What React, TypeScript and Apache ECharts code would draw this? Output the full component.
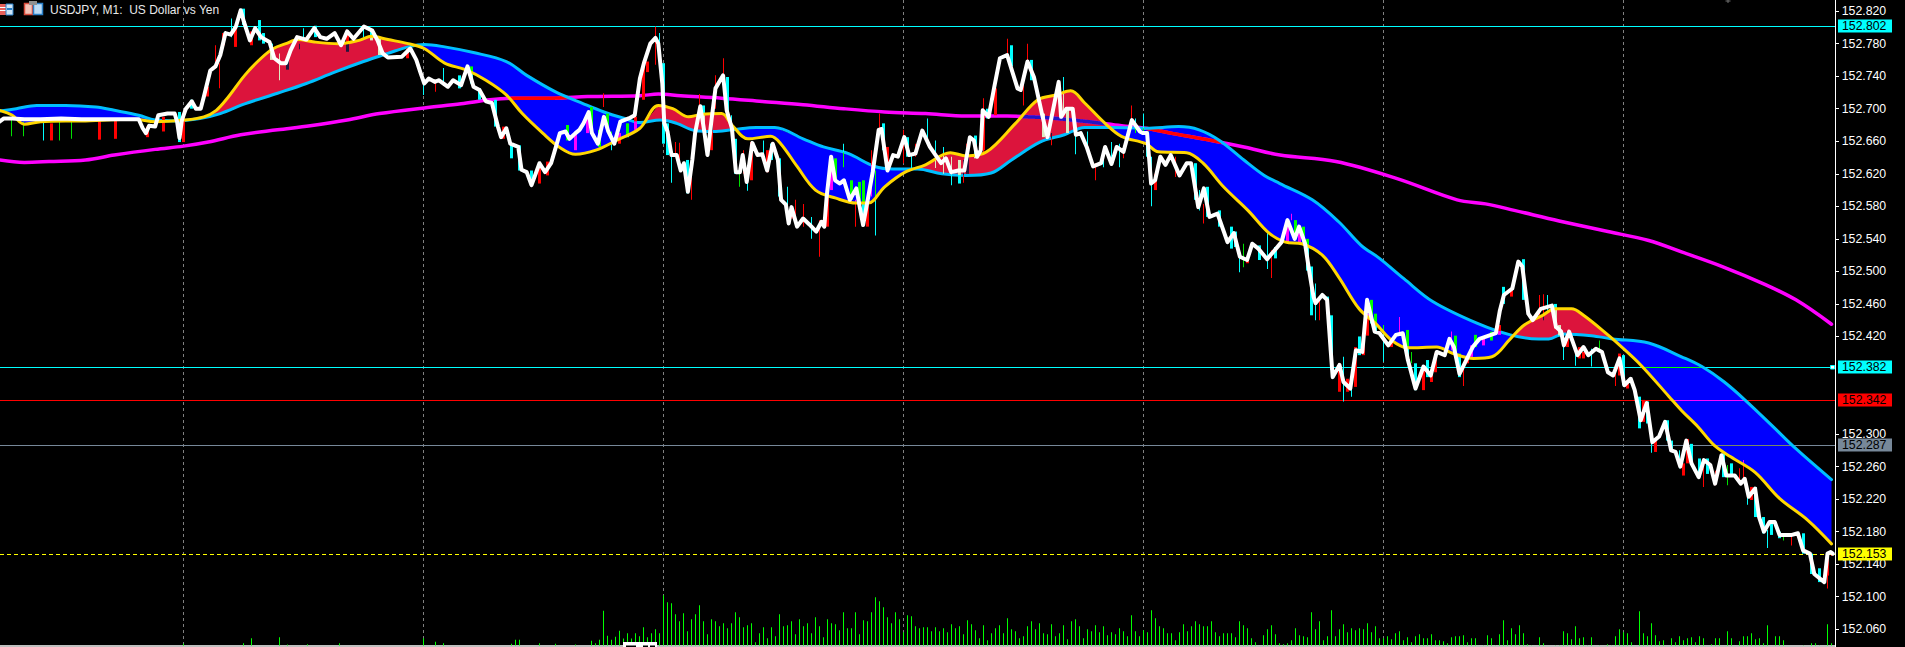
import React, { useEffect, useRef } from "react";
import * as echarts from "echarts";

// All prices below are in points above 152.000 (1 point = 0.001), bar index per minute.
const BASE = 152;
const tickPrices = [152.06, 152.1, 152.14, 152.18, 152.22, 152.26, 152.3, 152.42, 152.46, 152.5, 152.54, 152.58, 152.62, 152.66, 152.7, 152.74, 152.78, 152.82];
const levelPrices = [152.802, 152.382, 152.342, 152.287, 152.153];
const levelColors = ["#00ffff", "#00ffff", "#ff0000", "#778899", "#ffff00"];
const levelOnBlue = ["#00ff00", "#00ff00", "#ff00ff", "#778866", "#ffff00"];
const levelDashed = [false, false, false, false, true];
const gridBars = [45, 105, 165, 225, 285, 345, 405];

const closePts: number[][] = [
[-1,684],[0.1,688],[2.2,688],[5.2,687],[9.3,687],[14.4,688],[19.5,687],[24.6,687],[33.8,687],[34.8,676],[35.6,670],[36.4,679],[37.9,678],[38.7,692],[41,694],[42.8,694],[43.4,684],[44,664],[44.6,686],[45.6,700],[47.1,709],[48.1,700],[49.3,700],[50.1,715],[51.7,747],[53,752],[54.2,766],[55.5,793],[56.8,791],[58.1,801],[59.3,821],[60.1,807],[61.6,784],[62.9,799],[64.4,788],[66.5,782],[67.7,762],[69.3,756],[70.6,756],[71.8,772],[73.4,788],[75.7,785],[77.7,799],[79.2,788],[80.8,786],[82.8,793],[84.4,778],[85.9,795],[87.5,786],[90.1,801],[92.2,796],[93.5,784],[94.8,768],[96.1,763],[99.6,764],[101.7,774],[103.2,760],[104.2,745],[105.2,731],[106.3,737],[107.8,733],[108.8,735],[111.1,727],[112.4,735],[114.4,729],[116,752],[117.5,727],[119,723],[120.6,709],[122.1,707],[123.6,678],[124.4,665],[125.7,676],[126.7,657],[128.7,653],[129.5,625],[130.8,622],[132,606],[134,633],[135.4,622],[136.9,633],[138.1,653],[139.1,670],[140.5,672],[141.5,663],[143,670],[144,674],[145,682],[146.3,696],[147.1,670],[148.6,657],[150.1,690],[151.2,672],[152.7,657],[154.2,684],[156.3,688],[157.8,692],
[159.1,737],[160.1,756],[161.7,780],[163,787],[163.7,780],[164.7,731],[165.2,682],[166,672],[167,643],[168.3,643],[169.3,624],[170.1,633],[171.1,598],[172.2,637],[172.9,670],[174.2,703],[175.2,672],[176,643],[177,686],[178,725],[179.9,741],[180.8,698],[182.1,676],[183.1,622],[184.1,622],[184.8,643],[185.8,610],[187.2,658],[188.5,643],[189.7,644],[190.9,624],[192.3,657],[193.6,637],[194.4,588],[195.6,582],[196.3,559],[197,579],[198.4,555],[199.9,565],[201.4,558],[203.2,549],[204.5,561],[205.2,555],[205.8,592],[206.9,641],[207.9,612],[209.1,608],[210.1,612],[211.6,588],[213.2,602],[214.9,557],[216.2,592],[217.3,622],[218.8,674],[219.5,675],[221,624],[222.4,643],[223.6,641],[225.2,665],[226.4,643],[228,645],[229.7,673],[231.6,653],[234.4,633],[235.6,639],[236.9,622],[238.7,624],[240.2,624],[241.6,665],[242.6,661],[243.4,641],[244.3,649],[244.8,698],[246.3,690],[247.7,727],[249.1,762],[250.9,766],[253.5,725],[254.3,723],[256,758],[257.6,739],[259.6,694],[261,665],[263.8,733],[264.4,690],[265.7,700],[267.3,700],[268.1,668],[269.3,670],[270.8,653],[272.4,629],[274.4,633],[275.4,653],[277,632],[278.3,653],[280,647],[282.1,686],[284.1,672],[284.8,670],[285.9,670],[286.9,608],[287.9,612],[289.2,641],[290.5,631],[291.8,643],[294,618],[295.8,633],[296.9,633],[298.7,579],[300.1,602],[301.5,567],[303.5,571],[306,536],[307.6,547],[309.1,518],[310.9,514],[312.2,534],[313.7,528],[315.9,515],[319.5,536],
[321,563],[322.8,540],[323.9,555],[325.4,534],[326.4,501],[327.5,469],[328,461],[329.7,471],[330.9,465],[331.8,403],[332.3,370],[334,385],[335,364],[336.7,356],[338.1,403],[339.7,401],[340.9,465],[342.8,426],[344,424],[346.2,409],[348.1,422],[349.8,424],[351.1,391],[353,356],[355,383],[356.8,372],[358.3,401],[360.3,397],[361.5,417],[362.6,407],[364,374],[365.9,393],[367.3,407],[369,417],[373.1,424],[374.1,452],[375.1,471],[377.2,479],[378.7,512],[379.7,506],[381.2,448],[382.3,440],[384.3,454],[387.1,458],[388.1,432],[389.4,426],[390.1,409],[391.4,426],[393.5,397],[395,407],[396.2,397],[398.1,405],[399.6,401],[401.1,376],[402.4,372],[404,393],[405.2,360],[406.8,368],[407.8,354],[409.3,317],[410.8,338],[412.2,290],[413.9,297],[415.4,315],[416.9,280],[418,278],[419.2,260],[420.7,292],[422,264],[423.8,247],[425.1,268],[426.7,262],[427.9,239],[429.5,274],[430.7,249],[432.8,249],[434.3,239],[435.3,245],[436.3,223],[437.9,233],[438.9,198],[440.1,180],[441.5,192],[442.8,192],[444,176],[447.1,176],[448.6,178],[449.9,157],[451.6,153],[452.7,128],[453.7,124],[455.2,118],[456,153],[456.8,155],[457.3,153],
];

const fastPts: number[][] = [
[-1,698],[2.2,692],[5.2,681],[9.3,684],[19.5,685],[32.8,687],[37.9,684],[45,686],[50.1,690],[53.2,698],[56.3,715],[60.3,741],[64.4,762],[67.5,774],[70.6,780],[73.6,785],[77.7,782],[83.8,780],[88.9,784],[92,789],[96.1,785],[101.2,780],[105.2,774],[110.3,756],[115.5,748],[120.6,735],[125.7,717],[129.7,694],[134.8,670],[138.9,653],[143,644],[148.1,649],[153.2,661],[159.1,676],[163.7,704],[167.3,700],[171.3,690],[174.4,693],[179.5,694],[182.1,680],[186.1,663],[191.8,666],[194.3,657],[198.4,629],[203,600],[208.1,590],[213.2,584],[216.2,584],[220.3,604],[225.4,622],[230.5,631],[236.7,646],[240.7,642],[245.8,647],[253,682],[258.6,711],[263.2,717],[266.8,722],[270.3,707],[275.4,682],[279.5,666],[285.6,657],[288.7,647],[295.8,646],[299.9,633],[305,604],[311.1,575],[316.4,547],[320.5,536],[324.6,534],[329.7,520],[333.8,493],[338.9,454],[343,436],[347.1,415],[351.1,406],[358.3,407],[362.4,399],[367.5,393],[372.1,395],[376.7,417],[380.2,434],[384.8,446],[387.9,454],[392,454],[395,446],[401.1,422],[403.2,413],[409.3,385],[416.4,346],[419.5,329],[423.6,309],[427.7,286],[431.8,272],[437.9,253],[444,221],[451.1,194],[457,165],
];

const slowPts: number[][] = [
[-1,697],[3.2,700],[8.3,704],[15.5,704],[23.1,702],[27.7,698],[33.8,692],[37.9,686],[43,685],[49.1,688],[54.2,694],[60.3,706],[68.5,719],[75.7,731],[82.8,745],[90,758],[96.1,768],[101.2,776],[105.2,779],[110.3,776],[117.5,769],[125.7,758],[130.8,741],[137.9,721],[145,706],[150.1,696],[155.3,688],[159.1,683],[164.2,686],[168.3,682],[172.9,673],[177.5,672],[182.1,674],[188.2,677],[192.8,677],[199.9,663],[205,653],[211.1,645],[217.8,629],[222.4,626],[228.5,626],[234.6,620],[240.7,618],[246.9,621],[252,637],[259.1,659],[265.2,668],[270.3,677],[277.5,677],[285.6,676],[293.8,678],[298.9,674],[304,661],[310.1,637],[315.2,618],[319.1,608],[327.2,588],[333.8,561],[339.4,532],[344,516],[350.1,491],[357.3,463],[368.5,436],[376.7,422],[383.8,417],[386.3,417],[389.9,423],[397,421],[402.2,417],[411.3,412],[419.5,395],[424.6,383],[430.2,364],[435.8,340],[442,311],[448.1,282],[457,244],
];

const longPts: number[][] = [
[-1,637],[5.2,634],[11.4,635],[20.5,637],[27.7,643],[37.9,650],[45,654],[51.2,659],[59.3,668],[68.5,674],[76.7,679],[85.9,686],[94,694],[105.2,701],[114.4,706],[121.6,711],[127.7,713],[137.9,713],[146,715],[159.1,716],[163.7,718],[169.3,716],[179.5,713],[189.7,709],[199.9,705],[210.1,700],[220.3,696],[230.5,694],[240.7,691],[250.9,691],[261.1,689],[271.3,684],[279.5,679],[285.6,676],[291.8,670],[302,661],[310.1,653],[319.1,643],[333.1,635],[348.4,614],[363.4,588],[370.5,583],[377.7,575],[388.9,562],[401.1,549],[411.3,538],[419.5,524],[429.7,506],[439.9,485],[448.1,465],[457,435],
];

// bar, low, high, thick body (1) or thin wick (0), direction: 0 falling, 1 rising, 2 green
const candleRows: number[][] = [
[2,666,686,0,2],[5,666,684,0,2],[10,661,687,0,0],[12,661,682,1,1],[14,661,684,0,2],[17,663,684,0,2],[24,662,685,1,1],[28,663,685,1,1],[36,665,678,1,1],[40,672,690,1,1],[44,659,696,1,0],[45,659,692,1,1],[47,700,711,1,0],[51,715,727,1,1],[53,752,778,0,1],[54,725,756,0,1],[55,778,793,1,1],[57,788,811,0,0],[58,776,801,1,1],[60,803,823,1,0],[62,778,795,1,1],[64,784,809,1,0],[65,780,793,1,0],[67,760,780,1,0],[69,735,768,0,0],[71,748,764,1,1],[74,773,780,0,1],[75,784,799,0,0],[78,788,802,1,0],[86,770,793,1,1],[90,788,803,0,0],[92,784,797,1,0],[94,766,786,1,0],[101,762,774,1,1],[105,717,739,0,0],[108,721,735,0,1],[110,731,750,0,0],[114,725,741,1,0],[117,731,752,1,0],[119,711,725,1,0],[123,678,711,1,0],[125,663,678,1,1],[127,639,657,1,0],[129,624,655,1,0],[132,606,624,1,0],[134,608,629,1,1],[136,618,635,1,1],[141,661,680,1,0],[143,649,670,1,1],[146,670,694,1,1],[147,674,702,1,0],[149,653,674,1,0],[150,702,719,0,1],[151,672,694,1,0],[152,649,672,0,0],[154,657,670,1,1],[156,665,682,1,0],[158,674,690,1,1],
[160,711,752,1,1],[161,745,758,1,1],[163,754,801,0,1],[164,776,793,0,0],[165,657,756,1,0],[166,643,682,1,0],[167,609,645,0,0],[168,641,659,0,1],[169,624,658,0,1],[171,596,637,1,0],[172,588,637,0,1],[174,692,718,0,1],[175,672,704,1,0],[177,649,694,1,1],[178,700,741,0,1],[180,739,762,0,1],[181,694,739,1,0],[182,670,692,0,0],[183,620,663,1,0],[184,604,620,0,2],[185,620,649,0,1],[186,599,628,0,0],[187,612,659,1,1],[190,643,661,0,0],[191,622,649,1,1],[192,637,657,1,0],[194,592,639,1,0],[196,567,604,0,0],[197,565,579,1,1],[198,567,588,0,1],[200,555,583,0,1],[202,540,567,0,0],[204,518,563,0,1],[206,555,592,1,1],[207,600,641,1,1],[208,612,639,1,0],[210,628,657,0,0],[212,588,612,1,0],[213,555,588,0,1],[214,583,610,1,0],[215,557,612,1,0],[216,555,583,1,1],[217,592,649,0,1],[218,544,624,0,0],[219,670,694,0,1],[220,649,682,1,0],[221,624,653,1,1],[225,633,674,0,1],[226,641,665,1,0],[227,626,645,0,0],[228,641,657,0,1],[231,661,688,0,0],[233,627,661,0,0],[235,620,653,0,0],[237,606,641,0,0],[239,608,637,1,0],[240,609,637,0,1],[241,620,657,1,1],[243,639,667,1,0],[245,645,713,0,1],[245,649,692,1,1],[246,688,700,1,0],[248,692,725,1,1],[251,760,786,0,1],[252,752,778,1,0],[255,704,735,0,1],[256,756,780,0,1],[257,735,760,1,0],[260,665,694,1,0],[262,655,670,0,1],[265,698,739,0,0],[266,670,702,1,0],[268,644,671,0,0],[271,645,672,0,0],[273,612,633,0,1],[275,628,649,0,0],[277,633,659,0,0],[279,628,657,0,0],[280,639,653,0,1],[282,682,704,0,1],[283,670,688,0,0],[285,670,694,0,0],[286,641,672,1,0],[287,580,641,0,0],[288,600,620,1,1],[293,616,641,0,1],[298,588,633,1,0],[299,575,600,0,0],[300,559,583,0,1],[301,567,604,1,0],[304,555,575,1,0],[307,528,555,1,0],[308,530,549,1,0],[309,499,518,0,0],[310,505,534,0,2],[311,510,516,1,1],[314,514,532,1,0],[316,503,547,0,0],[317,492,526,0,1],[318,516,530,1,0],
[321,536,563,1,1],[322,563,571,0,1],[323,540,563,1,0],[324,536,551,1,1],[325,536,555,1,0],[326,501,540,1,0],[327,446,506,1,0],[328,440,485,0,0],[329,440,465,0,1],[331,448,469,1,0],[332,379,446,1,0],[334,352,387,1,1],[335,340,395,0,0],[336,352,368,1,1],[337,346,364,0,0],[338,358,407,1,1],[339,397,420,1,0],[340,397,420,1,1],[341,421,448,1,1],[342,436,465,1,0],[343,424,448,1,0],[345,389,434,0,0],[347,407,415,1,1],[349,424,444,0,1],[351,395,428,1,0],[352,387,401,0,2],[353,354,387,1,0],[355,354,379,1,1],[356,370,391,1,0],[357,364,379,1,1],[358,376,399,1,1],[362,403,426,0,1],[363,395,421,1,0],[364,370,399,1,0],[365,359,383,0,1],[366,387,395,1,1],[367,395,409,1,1],[368,407,422,1,0],[370,409,420,1,1],[372,415,426,1,0],[374,422,434,1,1],[375,460,481,1,0],[377,469,477,1,1],[380,465,515,1,0],[384,446,471,0,1],[385,440,472,0,1],[386,452,471,0,0],[388,430,460,1,0],[389,420,434,1,0],[390,391,424,0,0],[391,407,426,1,1],[393,384,407,0,0],[394,393,407,1,1],[395,393,401,1,1],[397,383,405,0,0],[399,401,415,0,2],[403,359,380,0,1],[404,372,399,1,1],[405,360,397,1,0],[406,356,366,1,1],[409,307,346,1,0],[410,315,342,1,1],[411,313,340,1,0],[412,277,292,0,0],[413,278,292,1,1],[416,292,317,1,0],[417,280,292,1,0],[419,258,280,0,0],[420,249,264,1,1],[421,264,294,1,1],[422,264,288,1,0],[424,247,270,1,0],[425,235,264,0,1],[426,251,270,1,0],[428,237,255,0,1],[430,247,276,1,0],[431,237,262,0,2],[432,249,264,1,0],[434,239,258,0,1],[435,243,268,0,1],[436,213,239,0,0],[437,219,235,1,1],[438,198,235,1,0],[440,178,198,1,0],[441,160,182,0,0],[442,176,194,1,0],[444,172,180,1,0],[445,169,175,0,2],[447,163,178,0,1],[450,153,178,1,0],[452,128,153,1,0],[454,118,135,1,0],[456,110,153,0,1],[456,126,153,1,1],[457,150,156,0,1],
];

const volumeEarly: number[][] = [[45,5],[60,7],[62,22],[69,25],[71,3],[76,4],[84,7],[105,22],[108,11],[110,7],[127,5],[128,17],[129,17],[134,7],[138,5],[143,3],[147,14],[148,7],[149,17],[150,104],[151,29],[152,17],[153,26],[154,44]];
const volumeA = [21,37,21,37,28,55,25,37,49,37,151,130,127,94,73,97,43,79,94,121,73,34,79,73,58,67,52,67,100,85,55,61,67,10,37,55,22,55,28,94,58,61,73,34,79,58,67,37,85,58,25,79,67,64,46,100,52,52,100,34,76,73,100,145,133,115,85,67,100,79,40,91,88,58,52,55,55,43,55,43,52,40,64,52,58,34,76,64,46,22,61,16,37,52,61,37,82,49,43,22];
const volumeB = [28,58,73,49,67,37,34,64,28,37,61,19,73,79,58,22,49,43,61,40,58,31,40,34,52,43,28,91,43,28,46,40,106,82,58,52,37,37,16,40,64,43,58,73,64,58,58,73,40,28,37,37,37,25,73,61,52,22,10,0,31,49,61,34,7,4,7,16,52,31,28,25,100,49,73,16,28,106,28,49,64,40,52,46,52,49,67,40,58,22,22,28,19,37,43,16,25,10,28,34];
const volumeC = [22,22,34,16,16,13,7,25,28,28,31,10,22,22,0,1,31,22,1,34,76,16,52,34,61,37,4,1,0,25,7,0,0,1,1,43,37,19,58,22,25,1,25,0,1,0,4,1,28,49,40,37,10,0,103,37,28,67,31,13,16,0,22,10,28,16,22,25,10,28,22,0,4,22,22,0,43,22,0,13,28,28,37,19,22,7,61,0,28,28,16,0,0,0,0,1,0,7,7,1,0,64,7];

const pr = (p: number) => BASE + p / 1000;
const PX_PER_PRICE = 813.4;
const Y_MAX = 152.82 + 11.1 / PX_PER_PRICE;
const Y_MIN = 152.82 - (647 - 11.1) / PX_PER_PRICE;
const X_MIN = -0.875;
const X_MAX = 457.875;
const AXIS_X = 1835;

const C_BLUE = "#0000ff";
const C_RED = "#dc143c";

function interp(pts: number[][], x: number) {
  if (x <= pts[0][0]) return pts[0][1];
  for (let k = 1; k < pts.length; k++) {
    if (x <= pts[k][0]) {
      const [a, b] = [pts[k - 1], pts[k]];
      return a[1] + ((b[1] - a[1]) * (x - a[0])) / (b[0] - a[0]);
    }
  }
  return pts[pts.length - 1][1];
}

function cloudRegions() {
  const xs = Array.from(new Set([...fastPts.map((p) => p[0]), ...slowPts.map((p) => p[0])])).sort((a, b) => a - b);
  const regions: { up: boolean; top: number[][]; bot: number[][] }[] = [];
  let cur: any = null;
  const push = (x: number, f: number, s: number, up: boolean) => {
    if (!cur || cur.up !== up) {
      cur = { up, top: [], bot: [] };
      regions.push(cur);
    }
    cur.top.push([x, f]);
    cur.bot.push([x, s]);
  };
  for (let k = 0; k < xs.length; k++) {
    const x = xs[k];
    const f = interp(fastPts, x);
    const s = interp(slowPts, x);
    if (k > 0) {
      const px = xs[k - 1];
      const pf = interp(fastPts, px);
      const ps = interp(slowPts, px);
      if ((pf - ps) * (f - s) < 0) {
        const t = (ps - pf) / (f - pf - (s - ps));
        const cx = px + t * (x - px);
        const cy = pf + t * (f - pf);
        push(cx, cy, cy, pf > ps);
        cur = null;
        push(cx, cy, cy, f > s);
      }
    }
    push(x, f, s, f > s);
  }
  return regions;
}

function bandAt(x: number) {
  const f = interp(fastPts, x);
  const s = interp(slowPts, x);
  return { lo: Math.min(f, s), hi: Math.max(f, s), up: f > s };
}

function xorRuns(pts: number[][], onBlue: string, onRed: string, width: number, crisp: boolean) {
  const runs: { color: string; width: number; crisp: boolean; pts: number[][] }[] = [];
  let cur: any = null;
  const end = pts[pts.length - 1][0];
  for (let x = pts[0][0]; x <= end; x += 0.25) {
    const v = interp(pts, x);
    const b = bandAt(x);
    const inside = v >= b.lo && v <= b.hi;
    const color = inside ? (b.up ? onRed : onBlue) : null;
    if (!color) {
      cur = null;
      continue;
    }
    if (!cur || cur.color !== color) {
      cur = { color, width, crisp, pts: [] };
      runs.push(cur);
    }
    cur.pts.push([x, v]);
  }
  return runs;
}

const candleBase = ["#00ffff", "#ff0000", "#00e000"];
const candleOnBlue = ["#00ff00", "#ff00ff", "#00ff00"];
const candleOnRed = ["#dcebc3", "#23143c", "#dcebc3"];

function volumeData() {
  const out: number[][] = [...volumeEarly];
  volumeA.forEach((v, k) => out.push([155 + k, v]));
  volumeB.forEach((v, k) => out.push([255 + k, v]));
  volumeC.forEach((v, k) => out.push([355 + k, v]));
  return out;
}

function buildOption() {
  const regions = cloudRegions();
  const levelPts = levelPrices.map((p) => [[X_MIN, (p - BASE) * 1000], [X_MAX, (p - BASE) * 1000]]);
  const runs = [
    ...xorRuns(longPts, "#ff0000", "#2314c3", 3.5, false),
    ...levelPts.flatMap((pts, k) => (levelDashed[k] ? [] : xorRuns(pts, levelOnBlue[k], levelColors[k], 1, true))),
  ];
  const lineSeries = (name: string, pts: number[][], color: string, width: number, z: number, smooth: number) => ({
    name,
    type: "line",
    data: pts.map((p) => [p[0], pr(p[1])]),
    showSymbol: false,
    symbol: "none",
    silent: true,
    z,
    smooth,
    lineStyle: { color, width, join: "round", cap: "round" },
  });
  return {
    animation: false,
    backgroundColor: "#000000",
    grid: [
      { left: 0, top: 0, width: AXIS_X, height: 647 },
      { left: 0, top: 545.5, width: AXIS_X, height: 100 },
    ],
    xAxis: [
      { type: "value", gridIndex: 0, min: X_MIN, max: X_MAX, show: false },
      {
        type: "value",
        gridIndex: 1,
        min: X_MIN,
        max: X_MAX,
        axisLine: { show: true, onZero: false, lineStyle: { color: "#ffffff", width: 1.5 } },
        axisTick: { show: false },
        axisLabel: { show: false },
        splitLine: { show: false },
      },
    ],
    yAxis: [
      {
        type: "value",
        gridIndex: 0,
        position: "right",
        min: Y_MIN,
        max: Y_MAX,
        splitLine: { show: false },
        axisLine: { show: true, onZero: false, lineStyle: { color: "#ffffff", width: 1 } },
        axisTick: { show: true, length: 4, customValues: tickPrices, lineStyle: { color: "#ffffff" } },
        axisLabel: {
          show: true,
          customValues: tickPrices,
          margin: 6.7,
          color: "#ffffff",
          fontFamily: "Liberation Sans",
          fontSize: 12.3,
          formatter: (v: number) => v.toFixed(3),
        },
      },
      { type: "value", gridIndex: 1, min: 0, max: 300, show: false },
    ],
    series: [
      {
        name: "grid",
        type: "custom",
        z: 1,
        silent: true,
        data: gridBars.map((b) => [b]),
        encode: { x: 0 },
        renderItem: (_p: any, api: any) => {
          const x = api.coord([api.value(0), Y_MAX])[0];
          return {
            type: "line",
            shape: { x1: x, y1: 0, x2: x, y2: 646 },
            style: { stroke: "#808080", lineWidth: 1, lineDash: [3, 3] },
          };
        },
      },
      {
        name: "volume",
        type: "custom",
        xAxisIndex: 1,
        yAxisIndex: 1,
        silent: true,
        z: 2,
        data: volumeData(),
        encode: { x: 0, y: 1 },
        renderItem: (_p: any, api: any) => {
          const top = api.coord([api.value(0), api.value(1)]);
          const bottom = api.coord([api.value(0), 0]);
          return {
            type: "rect",
            shape: { x: Math.round(top[0] - 0.5), y: top[1], width: 1, height: bottom[1] - top[1] },
            style: { fill: "#00ff00" },
          };
        },
      },
      {
        name: "cloud",
        type: "custom",
        z: 3,
        silent: true,
        data: regions.map((_r, k) => [k]),
        encode: { x: 0 },
        clip: true,
        renderItem: (_p: any, api: any) => {
          const r = regions[api.value(0)];
          const pts = [...r.top, ...[...r.bot].reverse()].map((p) => api.coord([p[0], pr(p[1])]));
          return { type: "polygon", shape: { points: pts }, style: { fill: r.up ? C_RED : C_BLUE } };
        },
      },
      lineSeries("long", longPts, "#ff00ff", 3.5, 4, 0.35),
      {
        name: "levels",
        type: "custom",
        z: 5,
        silent: true,
        data: levelPrices.map((p, k) => [k, p]),
        encode: { y: 1 },
        renderItem: (_p: any, api: any) => {
          const k = api.value(0);
          const p = api.value(1);
          const y = Math.round(api.coord([0, p])[1]) + 0.5;
          return {
            type: "group",
            children: [
              {
                type: "line",
                shape: { x1: 0, y1: y, x2: AXIS_X, y2: y },
                style: { stroke: levelColors[k], lineWidth: 1, lineDash: levelDashed[k] ? [4, 3] : undefined },
              },
              { type: "rect", shape: { x: 1838, y: y - 7, width: 54, height: 13 }, style: { fill: levelColors[k] }, z2: 10 },
              {
                type: "text",
                x: 1842,
                y: y - 0.5,
                z2: 11,
                style: {
                  text: p.toFixed(3),
                  fill: "#000000",
                  fontFamily: "Liberation Sans",
                  fontSize: 12.3,
                  textVerticalAlign: "middle",
                },
              },
            ],
          };
        },
      },
      {
        name: "xor",
        type: "custom",
        z: 6,
        silent: true,
        data: runs.map((_r, k) => [k]),
        encode: { x: 0 },
        renderItem: (_p: any, api: any) => {
          const r = runs[api.value(0)];
          const pts = r.pts.map((p) => {
            const c = api.coord([p[0], pr(p[1])]);
            return r.crisp ? [c[0], Math.round(c[1]) + 0.5] : c;
          });
          return { type: "polyline", shape: { points: pts }, style: { stroke: r.color, lineWidth: r.width, fill: "none" } };
        },
      },
      lineSeries("slow", slowPts, "#00bfff", 3, 7, 0.35),
      {
        name: "candles",
        type: "custom",
        z: 8,
        silent: true,
        data: candleRows,
        encode: { x: 0, y: [1, 2] },
        renderItem: (_p: any, api: any) => {
          const i = api.value(0);
          const lo = api.value(1);
          const hi = api.value(2);
          const thick = api.value(3);
          const dir = api.value(4);
          const b = bandAt(i);
          const cuts = [lo, Math.min(hi, Math.max(lo, b.lo)), Math.min(hi, Math.max(lo, b.hi)), hi];
          const children: any[] = [];
          const cx = api.coord([i, pr(lo)])[0];
          const w = thick ? 3 : 1;
          for (let k = 0; k < 3; k++) {
            if (cuts[k + 1] <= cuts[k]) continue;
            const color = k === 1 && dir !== 2 ? (b.up ? candleOnRed[dir] : candleOnBlue[dir]) : k === 1 ? candleOnBlue[dir] : candleBase[dir];
            const y1 = api.coord([i, pr(cuts[k + 1])])[1];
            const y2 = api.coord([i, pr(cuts[k])])[1];
            children.push({
              type: "rect",
              shape: { x: Math.round(cx - w / 2), y: y1, width: w, height: y2 - y1 },
              style: { fill: color },
            });
          }
          return { type: "group", children };
        },
      },
      lineSeries("fast", fastPts, "#ffd700", 3, 9, 0.35),
      lineSeries("close", closePts, "#ffffff", 4, 10, 0),
    ],
    graphic: [
      { type: "text", x: 50, y: 10, z: 20, style: { text: "USDJPY, M1:  US Dollar vs Yen", fill: "#e8e8e8", fontFamily: "Liberation Sans", fontSize: 12, textVerticalAlign: "middle" } },
      { type: "rect", z: 20, shape: { x: 0, y: 4, width: 6, height: 11 }, style: { fill: "#e8605a" } },
      { type: "rect", z: 20, shape: { x: 0, y: 7, width: 6, height: 1 }, style: { fill: "#ffffff" } },
      { type: "rect", z: 20, shape: { x: 0, y: 10, width: 6, height: 1 }, style: { fill: "#ffffff" } },
      { type: "rect", z: 20, shape: { x: 6, y: 4, width: 7, height: 11 }, style: { fill: "#cfe6f8", stroke: "#2a80c8", lineWidth: 1 } },
      { type: "rect", z: 20, shape: { x: 7, y: 8, width: 5, height: 2 }, style: { fill: "#2a80c8" } },
      { type: "rect", z: 20, shape: { x: 24.5, y: 3.5, width: 8, height: 11 }, style: { fill: "#f4c4b8", stroke: "#d84a3a", lineWidth: 1.5 } },
      { type: "rect", z: 20, shape: { x: 33.5, y: 3.5, width: 9, height: 11 }, style: { fill: "#bcdcf6", stroke: "#2a80c8", lineWidth: 1.5 } },
      { type: "rect", z: 20, shape: { x: 29, y: 1, width: 8, height: 4 }, style: { fill: "#909090" } },
      { type: "rect", z: 20, shape: { x: 1830.5, y: 365.5, width: 4, height: 3.5 }, style: { fill: "#ffffff", stroke: "#00ffff", lineWidth: 1 } },
      { type: "line", z: 20, shape: { x1: 1725.5, y1: 1, x2: 1730.5, y2: 1 }, style: { stroke: "#707070", lineWidth: 1 } },
      { type: "line", z: 20, shape: { x1: 1728, y1: 0, x2: 1728, y2: 3 }, style: { stroke: "#707070", lineWidth: 1 } },
      { type: "rect", z: 20, shape: { x: 623, y: 642, width: 34, height: 5 }, style: { fill: "#ffffff" } },
      { type: "rect", z: 21, shape: { x: 626, y: 645.5, width: 10, height: 1.5 }, style: { fill: "#000000" } },
      { type: "rect", z: 21, shape: { x: 643, y: 645.5, width: 5, height: 1.5 }, style: { fill: "#000000" } },
      { type: "rect", z: 21, shape: { x: 650, y: 645.5, width: 5, height: 1.5 }, style: { fill: "#000000" } },
    ],
  };
}

export default function App() {
  const ref = useRef<HTMLDivElement>(null);
  useEffect(() => {
    document.body.style.margin = "0";
    document.body.style.background = "#000";
    const chart = echarts.init(ref.current!, undefined, { renderer: "svg", width: 1905, height: 647 });
    chart.setOption(buildOption() as any);
    return () => chart.dispose();
  }, []);
  return <div ref={ref} style={{ width: 1905, height: 647, background: "#000" }} />;
}
